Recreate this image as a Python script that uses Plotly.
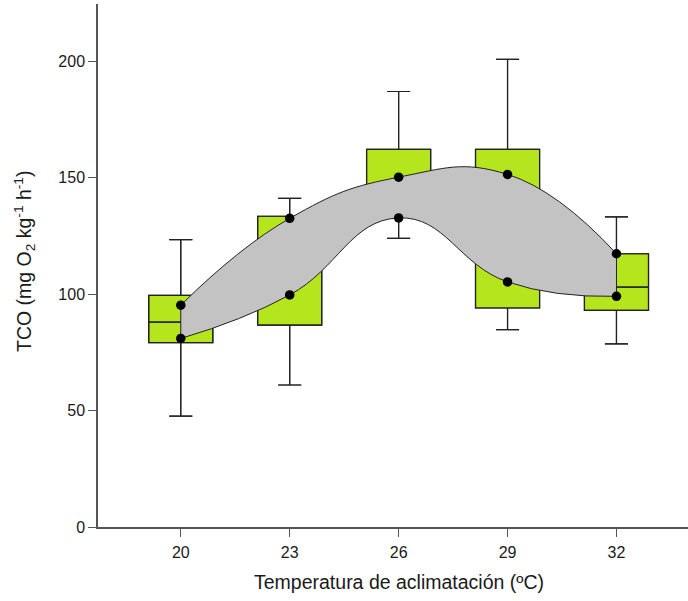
import plotly.graph_objects as go

# Acclimation temperatures (ºC)
temps = [20, 23, 26, 29, 32]

# Box statistics of TCO (mg O2 kg-1 h-1)
whisk_low = [47.6, 61.0, 124.0, 84.8, 78.7]
q1 = [79.2, 86.7, 137.9, 94.1, 93.1]
median = [88.0, 115.8, 140.8, 128.0, 103.1]
q3 = [99.5, 133.5, 162.2, 162.2, 117.4]
whisk_high = [123.5, 141.2, 187.1, 200.9, 133.2]

# Upper and lower limits of the band
band_upper = [95.3, 132.6, 150.3, 151.5, 117.4]
band_lower = [81.0, 99.7, 132.8, 105.3, 99.1]

y_ticks = [0, 50, 100, 150, 200]

GREEN = "#b5e61d"
BAND = "#c3c3c3"
EDGE = "#222222"
TEXT = "#1a1a1a"
FONT = "Liberation Sans, Arial, sans-serif"

box_width = 1.765
cap_ratio = 0.36

fig = go.Figure()


def box_trace(fill):
    return go.Box(
        x=temps,
        q1=q1,
        median=median,
        q3=q3,
        lowerfence=whisk_low,
        upperfence=whisk_high,
        width=box_width,
        whiskerwidth=cap_ratio,
        boxpoints=False,
        fillcolor=fill,
        line=dict(color=EDGE, width=1.2),
        showlegend=False,
        hoverinfo="skip",
    )


# Filled boxes underneath
fig.add_trace(box_trace(GREEN))

# Gray band between the two smoothed curves
fig.add_trace(go.Scatter(
    x=temps, y=band_upper, mode="lines",
    line=dict(color=EDGE, width=1, shape="spline", smoothing=1.3),
    showlegend=False, hoverinfo="skip",
))
fig.add_trace(go.Scatter(
    x=temps, y=band_lower, mode="lines", fill="tonexty", fillcolor=BAND,
    line=dict(color=EDGE, width=1, shape="spline", smoothing=1.3),
    showlegend=False, hoverinfo="skip",
))
# Closing edges of the band at both ends
for i in (0, -1):
    fig.add_trace(go.Scatter(
        x=[temps[i], temps[i]], y=[band_upper[i], band_lower[i]], mode="lines",
        line=dict(color=EDGE, width=1), showlegend=False, hoverinfo="skip",
    ))

# Box outlines redrawn on top of the band
fig.add_trace(box_trace("rgba(0,0,0,0)"))

# Points on the band limits
fig.add_trace(go.Scatter(
    x=temps + temps, y=band_upper + band_lower, mode="markers",
    marker=dict(color="black", size=9.5),
    showlegend=False, hoverinfo="skip",
))

axis_common = dict(
    showline=True, linecolor="#555555", linewidth=1.5,
    ticks="outside", ticklen=8, tickwidth=1.2, tickcolor="#555555",
    showgrid=False, zeroline=False,
    tickfont=dict(family=FONT, size=16, color=TEXT),
)

L, B, T = 98, 74, 4
PW, PH = 688 - L, 601 - T - B

fig.update_layout(
    width=688, height=601,
    margin=dict(l=L, r=0, t=T, b=B),
    paper_bgcolor="white", plot_bgcolor="white",
    boxmode="overlay",
    font=dict(family=FONT, color=TEXT),
    xaxis=dict(range=[17.72, 33.97], tickvals=temps, ticktext=[str(t) for t in temps],
               ticklabelstandoff=2, **axis_common),
    yaxis=dict(range=[0, 224.7], tickvals=y_ticks, ticklabelstandoff=0, **axis_common),
    annotations=[
        dict(text="Temperatura de aclimatación (ºC)", xref="paper", yref="paper",
             x=(399 - L) / PW, y=-(582 - (601 - B)) / PH, xanchor="center", yanchor="middle",
             showarrow=False, font=dict(family=FONT, size=19.5, color=TEXT)),
        dict(text="TCO (mg O<sub>2</sub> kg<sup>-1</sup> h<sup>-1</sup>)", xref="paper", yref="paper",
             x=-(L - 24) / PW, y=((601 - B) - 262) / PH, xanchor="center", yanchor="middle",
             textangle=-90, showarrow=False, font=dict(family=FONT, size=19.5, color=TEXT)),
    ],
)

fig.write_html("out.html")
